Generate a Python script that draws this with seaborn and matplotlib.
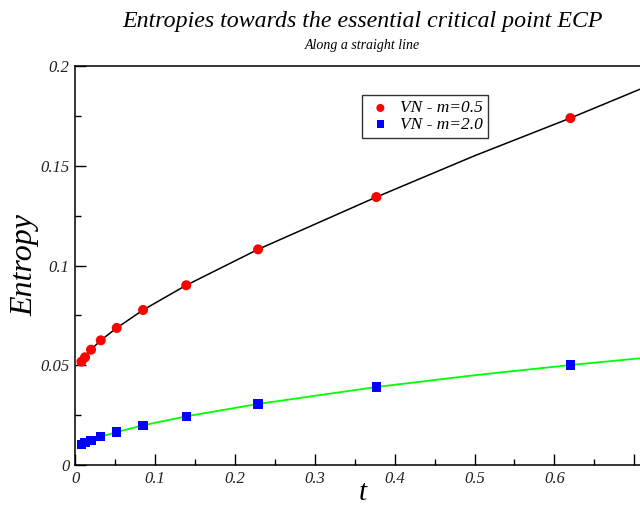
import matplotlib
matplotlib.use("Agg")
import matplotlib.pyplot as plt
import seaborn as sns
from matplotlib import font_manager as fm
from matplotlib.ticker import MultipleLocator

# data
t_vals = [0.0078, 0.0123, 0.0198, 0.032, 0.052, 0.085, 0.139, 0.229, 0.377, 0.620]
s_m05 = [0.0518, 0.0540, 0.0578, 0.0625, 0.0687, 0.0777, 0.0901, 0.1081, 0.1343, 0.1739]
s_m20 = [0.0104, 0.0112, 0.0124, 0.0142, 0.0165, 0.0199, 0.0244, 0.0306, 0.0391, 0.0501]
# fit curves
fit_t = [0.0078, 0.0123, 0.0198, 0.032, 0.052, 0.085, 0.139, 0.229, 0.377, 0.50, 0.620, 0.72]
fit_m05 = [0.0518, 0.0540, 0.0578, 0.0625, 0.0687, 0.0777, 0.0901, 0.1081, 0.1343, 0.1550, 0.1739, 0.1905]
fit_m20 = [0.0104, 0.0112, 0.0124, 0.0142, 0.0165, 0.0199, 0.0244, 0.0306, 0.0391, 0.0450, 0.0501, 0.0540]
labels = ["VN - m=0.5", "VN - m=2.0"]
xtick_vals = [0, 0.1, 0.2, 0.3, 0.4, 0.5, 0.6, 0.7]
xtick_labels = ['0', '0.1', '0.2', '0.3', '0.4', '0.5', '0.6', '']
ytick_vals = [0, 0.05, 0.1, 0.15, 0.2]
ytick_labels = ['0', '0.05', '0.1', '0.15', '0.2']

sns.set_style("ticks")
italic_names = {f.name for f in fm.fontManager.ttflist if f.style == 'italic'}
serif = 'Liberation Serif' if 'Liberation Serif' in italic_names else 'STIXGeneral'
plt.rcParams['font.family'] = [serif, 'DejaVu Serif']
plt.rcParams['font.style'] = 'italic'
for k in ['text.color', 'axes.labelcolor', 'xtick.color', 'ytick.color', 'axes.edgecolor']:
    plt.rcParams[k] = 'black'

fig = plt.figure(figsize=(6.4, 5.05), dpi=100)
ax = fig.add_axes([75.2/640, 40/505, (0.72*798.7)/640, 399/505])

sns.lineplot(x=fit_t, y=fit_m05, ax=ax, color='black', lw=1.1, legend=False, estimator=None, sort=False)
sns.lineplot(x=fit_t, y=fit_m20, ax=ax, color='#00ff00', lw=1.3, legend=False, estimator=None, sort=False)
sns.scatterplot(x=t_vals, y=s_m05, ax=ax, color='#ff0000', marker='o', s=52, edgecolor='none', label=labels[0], zorder=5)
sns.scatterplot(x=t_vals, y=s_m20, ax=ax, color='#0000ff', marker='s', s=45, edgecolor='none', label=labels[1], zorder=5)

ax.set_xlim(0, 0.72)
ax.set_ylim(0, 0.2)
ax.xaxis.set_minor_locator(MultipleLocator(0.05))
ax.yaxis.set_minor_locator(MultipleLocator(0.025))
ax.set_xticks(xtick_vals)
ax.set_xticklabels(xtick_labels)
ax.set_yticks(ytick_vals)
ax.set_yticklabels(ytick_labels)
ax.tick_params(which='major', direction='in', length=8, width=1, labelsize=12, pad=4)
ax.tick_params(which='minor', direction='in', length=4.5, width=1)
for lab in ax.get_xticklabels() + ax.get_yticklabels():
    lab.set_fontstyle('italic')
    lab.set_color('#222222')
for sp in ax.spines.values():
    sp.set_linewidth(1.1)
ax.spines['right'].set_visible(False)

ax.set_xlabel('t', fontsize=21, fontstyle='italic', labelpad=-5)
ax.set_ylabel('Entropy', fontsize=23, fontstyle='italic', labelpad=1)

leg = ax.legend(loc='upper left', bbox_to_anchor=(0.499, 0.927), borderaxespad=0,
                frameon=True, fancybox=False, prop={'style': 'italic', 'size': 12.5},
                handletextpad=0.4, borderpad=0.3, labelspacing=0.0, markerscale=0.8,
                handlelength=1.5)
leg.get_frame().set_edgecolor('black')
leg.get_frame().set_linewidth(1.0)

fig.text(0.566, 1 - 22/505, 'Entropies towards the essential critical point ECP',
         ha='center', va='center', fontsize=17.2, fontstyle='italic')
fig.text(0.566, 1 - 45/505, 'Along a straight line',
         ha='center', va='center', fontsize=10, fontstyle='italic')

fig.savefig('out.png', dpi=100)
